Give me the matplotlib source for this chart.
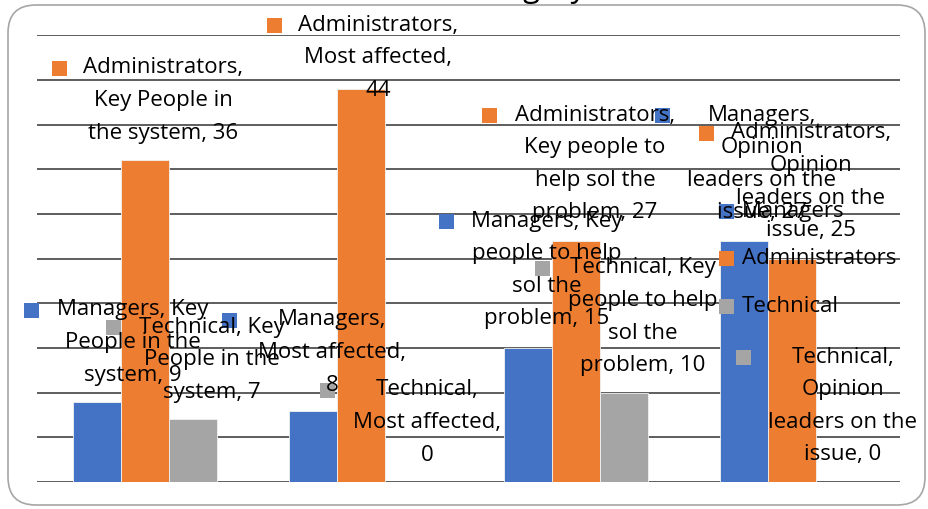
import matplotlib.pyplot as plt
from matplotlib.patches import Rectangle, FancyBboxPatch

plt.rcParams['font.family'] = ['Open Sans', 'DejaVu Sans']

categories = ['Key People in the system', 'Most affected',
              'Key people to help sol the problem', 'Opinion leaders on the issue']
series = ['Managers', 'Administrators', 'Technical']
managers = [9, 8, 15, 27]
administrators = [36, 44, 27, 25]
technical = [7, 0, 10, 0]
values = [managers, administrators, technical]
colors = ['#4472C4', '#ED7D31', '#A5A5A5']

W, H = 929, 509
fig = plt.figure(figsize=(W / 100, H / 100), dpi=100)

def fx(x):
    return x / W

def fy(y):
    return 1 - y / H

# rounded chart border
fig.patches.append(FancyBboxPatch((fx(8), fy(505)), 917 / W, 500 / H,
                                  boxstyle='round,pad=0,rounding_size=0.03',
                                  transform=fig.transFigure, fill=False,
                                  edgecolor='#A6A6A6', linewidth=1.2,
                                  mutation_aspect=W / H))

# cut-off title (only descenders show)
fig.text(fx(586), fy(-3), 'Stakeholder Category', ha='right', va='baseline',
         fontsize=22, color='black')

ax = fig.add_axes([fx(37), fy(482), fx(900) - fx(37), fy(35.3) - fy(482)])
bw = 0.2225
xs = range(len(categories))
for i, (vals, col) in enumerate(zip(values, colors)):
    ax.bar([x + (i - 1) * bw for x in xs], vals, width=bw, color=col,
           edgecolor='#f2f2f2', linewidth=0.6, zorder=3)
ax.set_xlim(-0.5, len(categories) - 0.5)
ax.set_ylim(0, 50)
ax.set_yticks(range(0, 51, 5))
ax.yaxis.grid(True, color='#505050', linewidth=1.3, zorder=0)
ax.set_axisbelow(True)
ax.tick_params(left=False, bottom=False, labelleft=False, labelbottom=False)
for s in ax.spines.values():
    s.set_visible(False)

# data labels: (series idx, category idx, words per line, text center x, first line y, key x)
layout = [
    (0, 0, [2, 3, 2], 133, 310, 32),
    (2, 0, [2, 3, 2], 212, 327, 114),
    (1, 0, [1, 3, 3], 163, 68, 60),
    (0, 1, [1, 2, 1], 332, 320, 230),
    (2, 1, [1, 2, 1], 427, 390, 327),
    (1, 1, [1, 2, 1], 378, 25, 275),
    (0, 2, [2, 3, 2, 2], 547, 221, 447),
    (2, 2, [2, 3, 2, 2], 643, 268, 543),
    (1, 2, [1, 3, 3, 2], 595, 115, 490),
    (0, 3, [1, 1, 3, 2], 762, 115, 662),
    (1, 3, [1, 1, 3, 2], 811, 133, 707),
    (2, 3, [1, 1, 3, 2], 843, 357, 744),
]
step = 32.6
fs = 16

def key(x, y, col):
    fig.patches.append(Rectangle((fx(x - 7.5), fy(y + 7.5)), 15 / W, 15 / H,
                                 transform=fig.transFigure, facecolor=col,
                                 edgecolor='none', zorder=5))

for si, ci, counts, tx, ty, kx in layout:
    words = f'{series[si]}, {categories[ci]}, {values[si][ci]}'.split()
    lines, k = [], 0
    for n in counts:
        lines.append(' '.join(words[k:k + n]))
        k += n
    key(kx, ty, colors[si])
    for j, line in enumerate(lines):
        fig.text(fx(tx), fy(ty + j * step), line, ha='center', va='center',
                 fontsize=fs, color='black', zorder=6)

# legend
for i, (name, col) in enumerate(zip(series, colors)):
    y = 211 + i * 47.5
    key(727, y, col)
    fig.text(fx(742), fy(y), name, ha='left', va='center', fontsize=fs,
             color='black', zorder=6)

fig.savefig('out.png', dpi=100)
